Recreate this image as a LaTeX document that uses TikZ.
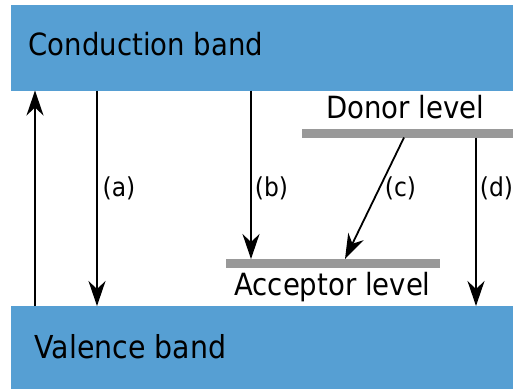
\documentclass[tikz,border=0pt]{standalone}
\usepackage{fontspec}
\setmainfont{DejaVu Sans Condensed}
\usetikzlibrary{arrows.meta}
\definecolor{bandblue}{RGB}{86,159,211}
\definecolor{levelgray}{RGB}{153,153,153}
\begin{document}
\begin{tikzpicture}[x=1pt,y=-1pt,
  band/.style={fill=bandblue,draw=none},
  level/.style={fill=levelgray,draw=none},
  big/.style={font=\fontsize{30.6}{36}\selectfont,inner sep=0pt},
  lab/.style={font=\fontsize{26}{30}\selectfont,inner sep=0pt},
  trans/.style={line width=1.8pt,-{Stealth[length=25pt,width=17pt,inset=8pt]}}]
\useasboundingbox (0,0) rectangle (513,389);
\path[band] (11,5) rectangle (513,90.5);
\path[band] (11,306) rectangle (513,389);
\path[level] (302,128.5) rectangle (513,137.5);
\path[level] (226,259) rectangle (440,267.5);
\node[big,anchor=base west] (cbt) at (28.5,55) {Conduction band};
\node[big,anchor=base west,font=\fontsize{31.6}{36}\selectfont] (vbt) at (34.5,358.5) {Valence band};
\node[big,anchor=base] (dlt) at (405,118) {Donor level};
\node[big,anchor=base] (alt) at (332.5,295) {Acceptor level};
\coordinate (v1) at (35,306);  \coordinate (c1) at (35,90.5);
\coordinate (ca) at (97,90.5); \coordinate (va) at (97,306);
\coordinate (cb) at (251,90.5); \coordinate (ab) at (251,259);
\coordinate (dc) at (404,137.5); \coordinate (ac) at (345,259);
\coordinate (dd) at (476,137.5); \coordinate (vd) at (476,306);
\draw[trans] (v1) -- (c1);
\draw[trans] (ca) -- (va);
\draw[trans] (cb) -- (ab);
\draw[trans] (dc) -- (ac);
\draw[trans] (dd) -- (vd);
\node[lab,anchor=base] (la) at (119,196) {(a)};
\node[lab,anchor=base] (lb) at (271.5,196) {(b)};
\node[lab,anchor=base] (lc) at (400.5,196) {(c)};
\node[lab,anchor=base] (ld) at (496.5,196) {(d)};
\end{tikzpicture}
\end{document}
